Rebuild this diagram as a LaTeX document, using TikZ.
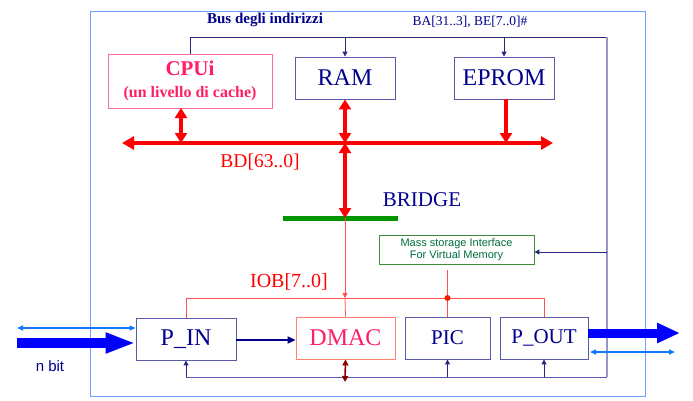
\documentclass[tikz,border=0pt]{standalone}
\usepackage{fontspec}
\setmainfont{Liberation Serif}
\newfontfamily\arialfont{Liberation Sans}
\usepackage{tikz}
\usetikzlibrary{
  arrows.meta,
  positioning
}

\definecolor{navytext}{RGB}{0,0,140}
\definecolor{boxblue}{RGB}{90,90,170}
\definecolor{addrdark}{RGB}{40,40,130}
\definecolor{addrlight}{RGB}{150,150,200}
\definecolor{cpupink}{RGB}{255,30,100}
\definecolor{cpuborder}{RGB}{255,110,160}
\definecolor{iobred}{RGB}{255,80,80}
\definecolor{dmacborder}{RGB}{255,130,110}
\definecolor{framblue}{RGB}{110,160,255}
\definecolor{portblue}{RGB}{0,0,255}
\definecolor{lineblue}{RGB}{20,120,255}
\definecolor{bridgegreen}{RGB}{0,150,0}
\definecolor{massgreen}{RGB}{60,140,60}
\definecolor{masstext}{RGB}{0,110,60}
\definecolor{dmacdark}{RGB}{140,0,0}

\begin{document}
\begin{tikzpicture}[x=1pt,y=-1pt,
    unit/.style={draw=boxblue,line width=0.9pt,inner sep=0pt,
      minimum height=42pt,text=navytext,font=\fontsize{24}{26}\selectfont},
    databus/.style={red,line width=4pt},
    dbarrow/.style={red,line width=3.5pt,
      {Triangle[length=10pt,width=12pt]}-{Triangle[length=10pt,width=12pt]}},
    addr/.style={addrdark,line width=1pt},
    addrarrow/.style={addrdark,line width=1pt,-{Triangle[length=5pt,width=5pt]}},
    iob/.style={iobred,line width=0.8pt},
    lbl/.style={inner sep=0pt}]

    \useasboundingbox (0,0) rectangle (693,400);

    % Outer frame
    \draw[framblue,line width=1pt] (90,11) rectangle (645,396);

    % Units
    \node[unit,draw=cpuborder,minimum width=164pt,minimum height=54pt,
      text=cpupink,align=center,font=\bfseries\fontsize{16}{20}\selectfont] (cpu) at (190,81)
      {{\fontsize{21}{24}\selectfont CPUi}\\[2pt](un livello di cache)};
    \node[unit,minimum width=100pt] (ram) at (345,78) {RAM};
    \node[unit,minimum width=100pt] (eprom) at (504,78) {EPROM};
    \node[unit,minimum width=100pt] (pin) at (186,339) {P\_IN};
    \node[unit,draw=dmacborder,text=cpupink,minimum width=99pt] (dmac) at (345.5,338) {DMAC};
    \node[unit,minimum width=85pt,font=\fontsize{21}{24}\selectfont] (pic) at (447.5,338) {PIC};
    \node[unit,minimum width=88pt,font=\fontsize{21}{24}\selectfont] (pout) at (544,338) {P\_OUT};
    \node[draw=massgreen,line width=0.8pt,minimum width=155pt,minimum height=29pt,
      inner sep=0pt,align=center,text=masstext,font=\arialfont\fontsize{11}{11.5}\selectfont]
      (mass) at (456.5,249.5) {Mass storage Interface\\For Virtual Memory};

    % Labels
    \node[lbl,text=navytext,font=\bfseries\fontsize{15}{17}\selectfont] (busname) at (265,20) {Bus degli indirizzi};
    \node[lbl,text=navytext,font=\fontsize{13.5}{15}\selectfont] (baname) at (470,22) {BA[31..3], BE[7..0]\#};
    \node[lbl,text=red,font=\fontsize{19.5}{21}\selectfont] (bdname) at (260,162) {BD[63..0]};
    \node[lbl,text=navytext,font=\fontsize{21}{23}\selectfont] (brname) at (422,200) {BRIDGE};
    \node[lbl,text=red,font=\fontsize{20}{22}\selectfont] (iobname) at (289,282) {IOB[7..0]};
    \node[lbl,text=navytext,font=\arialfont\fontsize{15}{17}\selectfont] (nbit) at (50,366) {n bit};

    % Address bus
    \coordinate (abusR) at (607,37);
    \coordinate (abusB) at (607,377);
    \coordinate (abusL) at (pin.south |- abusB);
    \draw[addr] (cpu.north) |- (abusR);
    \draw[addrlight,line width=1.2pt] (abusR) -- (abusB);
    \draw[boxblue,line width=1pt] (abusB) -- (abusL);
    \draw[addrarrow] (ram.north |- abusR) -- (ram.north);
    \draw[addrarrow] (eprom.north |- abusR) -- (eprom.north);
    \foreach \n in {pin,pic,pout}
      \draw[addrarrow] (\n.south |- abusB) -- (\n.south);
    \draw[addrarrow] (abusR |- 0,252) -- (mass.east |- 0,252);

    % Data bus BD
    \coordinate (bdL) at (122,143);
    \coordinate (bdR) at (553,143);
    \draw[databus,{Triangle[length=12pt,width=13pt]}-{Triangle[length=12pt,width=13pt]}] (bdL) -- (bdR);
    \coordinate (cpuB) at (181,108);
    \draw[dbarrow] (cpuB) -- (cpuB |- bdL);
    \draw[dbarrow] (ram.south) -- (ram.south |- bdL);
    \coordinate (epB) at (506,99);
    \draw[red,line width=3.5pt,-{Triangle[length=10pt,width=12pt]}] (epB) -- (epB |- bdL);

    % Bridge
    \coordinate (brL) at (283,218);
    \coordinate (brR) at (398,218);
    \coordinate (brC) at (345,218);
    \draw[bridgegreen,line width=5pt] (brL) -- (brR);
    \draw[dbarrow] (ram.south |- bdL) -- (brC);

    % IO bus
    \coordinate (iobT) at (345,298);
    \coordinate (iobdot) at (pic.north |- iobT);
    \coordinate (massstub) at (pic.north |- 0,270);
    \draw[iob,-{Triangle[length=5pt,width=5pt]}] (brC) -- (iobT);
    \draw[iob] (pin.north) |- (pout.north |- iobT) -- (pout.north);
    \draw[iob] (iobT) -- (dmac.north);
    \draw[iob] (massstub) -- (pic.north);
    \fill[red!80!orange] (iobdot) circle (3pt);

    % DMAC and P_IN links
    \coordinate (dmacB) at (345,382);
    \draw[dmacdark,line width=1.6pt,{Triangle[length=6pt,width=6pt]}-{Triangle[length=6pt,width=6pt]}] (dmac.south) -- (dmacB);
    \draw[navytext,line width=1.8pt,-{Triangle[length=8pt,width=7pt]}] (pin.east |- 0,340) -- (dmac.west |- 0,340);

    % Input port
    \coordinate (inL) at (17,343);
    \coordinate (inS) at (17,328);
    \draw[portblue,line width=10pt,-{Triangle[length=30pt,width=19pt]}] (inL) -- (pin.west |- inL);
    \draw[lineblue,line width=1.5pt,{Triangle[length=6pt,width=5pt]}-{Triangle[length=6pt,width=5pt]}] (inS) -- (pin.west |- inS);

    % Output port
    \coordinate (outR) at (680,333);
    \coordinate (outS) at (675,352);
    \draw[portblue,line width=9pt,-{Triangle[length=23pt,width=19pt]}] (pout.east |- outR) -- (outR);
    \draw[lineblue,line width=1.5pt,{Triangle[length=6pt,width=5pt]}-{Triangle[length=6pt,width=5pt]}] (590,352) -- (outS);
\end{tikzpicture}
\end{document}
